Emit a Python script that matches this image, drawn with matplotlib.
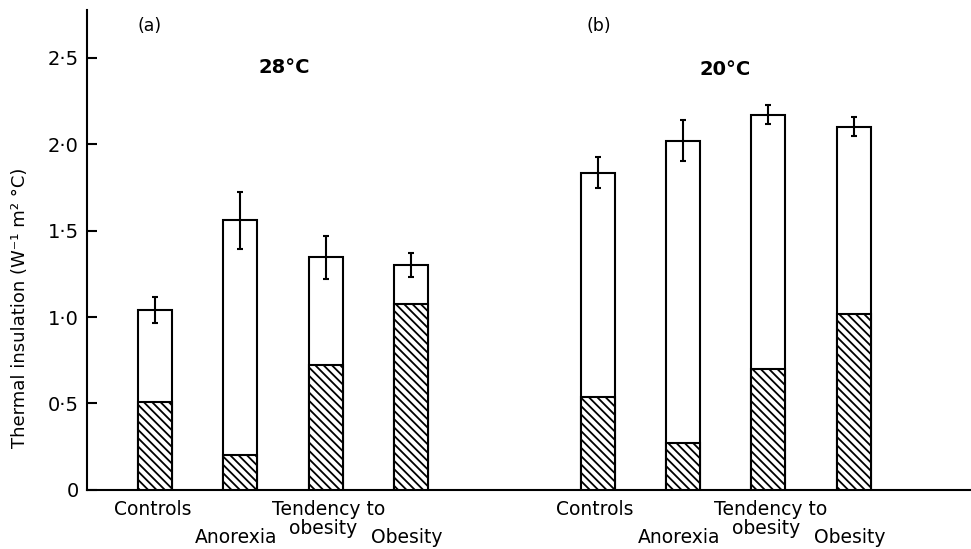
import numpy as np
import matplotlib
matplotlib.use('Agg')
import matplotlib.pyplot as plt

# Thermal insulation at two room temperatures, four groups each

groups      = ['Controls', 'Anorexia', 'Tendency to obesity', 'Obesity']
total_28    = [1.04, 1.56, 1.345, 1.30]      # total insulation, 28 C
err_28      = [0.075, 0.165, 0.125, 0.07]
tissue_28   = [0.51, 0.20, 0.72, 1.075]      # hatched part
total_20    = [1.834, 2.02, 2.17, 2.10]      # total insulation, 20 C
err_20      = [0.09, 0.12, 0.055, 0.055]
tissue_20   = [0.54, 0.27, 0.70, 1.02]
yticks      = [0, 0.5, 1.0, 1.5, 2.0, 2.5]
ytick_lbls  = ['0', '0·5', '1·0', '1·5', '2·0', '2·5']

plt.rcParams['hatch.linewidth'] = 1.3
plt.rcParams['font.family'] = 'DejaVu Sans'

x_a = np.arange(4)
x_b = np.arange(4) + 5.19
w = 0.4

fig = plt.figure(figsize=(9.71, 5.49), dpi=100)
ax = fig.add_axes([0.0896, 0.1075, 0.9104, 0.8743])

for xs, tot, err, tis in [(x_a, total_28, err_28, tissue_28),
                          (x_b, total_20, err_20, tissue_20)]:
    ax.bar(xs, tot, w, color='white', edgecolor='black', linewidth=1.5, zorder=2)
    ax.bar(xs, tis, w, color='white', edgecolor='black', linewidth=1.5,
           hatch='\\\\\\\\', zorder=3)
    ax.errorbar(xs, tot, yerr=err, fmt='none', ecolor='black', elinewidth=1.5,
                capsize=2.5, capthick=1.5, zorder=4)

ax.set_xlim(-0.797, 9.566)
ax.set_ylim(0, 2.775)
ax.set_xticks([])
ax.set_yticks(yticks)
ax.set_yticklabels(ytick_lbls, fontsize=14)
ax.tick_params(axis='y', direction='in', length=7, width=1.5, pad=6)
for s in ['top', 'right']:
    ax.spines[s].set_visible(False)
ax.spines['left'].set_linewidth(1.5)
ax.spines['bottom'].set_linewidth(1.5)

ax.set_ylabel('Thermal insulation (W⁻¹ m² °C)', fontsize=13)
ax.yaxis.set_label_coords(-0.066, 0.38)

# Panel labels and temperatures
ax.text(-0.06, 2.68, '(a)', fontsize=12.5, ha='center', va='center')
ax.text(1.51, 2.445, '28°C', fontsize=14, fontweight='bold', ha='center', va='center')
ax.text(5.2, 2.68, '(b)', fontsize=12.5, ha='center', va='center')
ax.text(6.68, 2.43, '20°C', fontsize=14, fontweight='bold', ha='center', va='center')

# Group names under the bars (staggered as in the original)
for xs in [x_a, x_b]:
    kw = dict(fontsize=13.5, ha='center', va='center', clip_on=False)
    ax.text(xs[0] - 0.03, -0.11, groups[0], **kw)
    ax.text(xs[1] - 0.05, -0.277, groups[1], **kw)
    ax.text(xs[2] + 0.03, -0.11, 'Tendency to', **kw)
    ax.text(xs[2] - 0.03, -0.22, 'obesity', **kw)
    ax.text(xs[3] - 0.05, -0.277, groups[3], **kw)

fig.savefig('out.png', dpi=100)
